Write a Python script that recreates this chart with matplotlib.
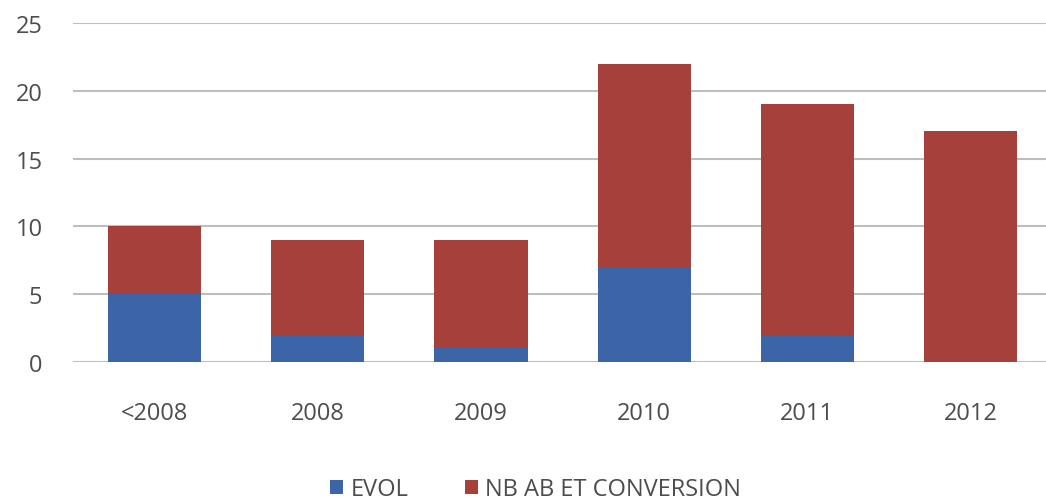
import matplotlib
matplotlib.use("Agg")
import matplotlib.pyplot as plt
import numpy as np

# Data
categories = ["<2008", "2008", "2009", "2010", "2011", "2012"]
evol = [5, 2, 1, 7, 2, 0]
nb_ab_conversion = [5, 7, 8, 15, 17, 17]

BLUE = "#3B65A6"
RED = "#A6403B"
TEXT = "#4D4D4D"
GRID = "#BEBEBE"

plt.rcParams["font.family"] = ["Open Sans", "DejaVu Sans"]

fig = plt.figure(figsize=(10.46, 5.02), dpi=100)
ax = fig.add_axes([73 / 1046, 1 - 363 / 502, (1046 - 73) / 1046, (363 - 24) / 502])

x = np.arange(len(categories))
width = 0.57
ax.bar(x, evol, width, color=BLUE, label="EVOL", zorder=3)
ax.bar(x, nb_ab_conversion, width, bottom=evol, color=RED,
       label="NB AB ET CONVERSION", zorder=3)

ax.set_ylim(0, 25)
ax.set_xlim(-0.5, -0.5 + (1046 - 73) / 163.2)
ax.set_yticks(range(0, 26, 5))
ax.set_xticks(x)
ax.set_xticklabels(categories)
ax.yaxis.grid(True, color=GRID, linewidth=1.5, zorder=0)
ax.tick_params(axis="both", length=0, labelsize=17, colors=TEXT)
ax.tick_params(axis="y", pad=22)
ax.tick_params(axis="x", pad=28)
for s in ax.spines.values():
    s.set_visible(False)

fig.legend(loc="center", bbox_to_anchor=(0.512, 1 - 490 / 502), ncol=2,
           frameon=False, fontsize=17, handlelength=0.55, handleheight=0.55,
           columnspacing=2.4, handletextpad=0.3, labelcolor=TEXT)

fig.savefig("out.png", dpi=100)
